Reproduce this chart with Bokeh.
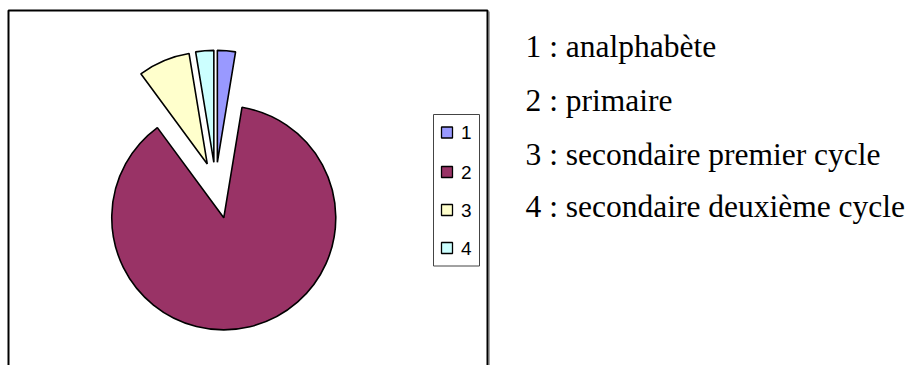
import math

from bokeh.core.properties import value
from bokeh.embed import file_html
from bokeh.models import ColumnDataSource, Range1d
from bokeh.plotting import figure
from bokeh.resources import INLINE

# Education level shares (percent of respondents)
categories = ["1", "2", "3", "4"]
shares = [2.6, 87.3, 7.5, 2.6]
colors = ["#9999FF", "#993366", "#FFFFCC", "#CCFFFF"]
descriptions = [
    "1 : analphabète",
    "2 : primaire",
    "3 : secondaire premier cycle",
    "4 : secondaire deuxième cycle",
]

W, H = 914, 365


def fy(y):
    """Convert a top-down pixel row to the upward data axis."""
    return H - y


p = figure(width=W, height=H, output_backend="svg", toolbar_location=None,
           x_range=Range1d(0, W), y_range=Range1d(0, H), min_border=0)
p.axis.visible = False
p.grid.visible = False
p.outline_line_color = None
p.background_fill_color = "white"

# chart frame (runs off the bottom edge)
p.quad(left=8, right=487, top=fy(10), bottom=-20, fill_color=None,
       line_color="black", line_width=2)
p.line(x=[488.5, 488.5], y=[fy(11), -20], line_color="#555555", line_width=1)

# pie: slices laid clockwise from 12 o'clock, each pulled out along its bisector
cx, cy, radius = 215.1, fy(183.3), 112
explode = [21.5, 35, 21.5, 21.5]
total = sum(shares)
xs, ys, starts, ends = [], [], [], []
theta = 0.0
for share, off in zip(shares, explode):
    span = share / total * 2 * math.pi
    t0, t1 = theta, theta + span
    mid = (t0 + t1) / 2
    xs.append(cx + off * math.sin(mid))
    ys.append(cy + off * math.cos(mid))
    starts.append(math.pi / 2 - t1)
    ends.append(math.pi / 2 - t0)
    theta = t1

pie = ColumnDataSource(dict(x=xs, y=ys, start=starts, end=ends, color=colors,
                            cat=categories))
p.wedge(x="x", y="y", radius=radius, start_angle="start", end_angle="end",
        fill_color="color", line_color="black", line_width=1.6, source=pie)

# legend box
p.quad(left=433, right=479, top=fy(114), bottom=fy(265.5), fill_color="white",
       line_color="#444444", line_width=1)
leg_y = [fy(132), fy(171.5), fy(209.5), fy(247.5)]
p.rect(x=[446.5] * 4, y=leg_y, width=11, height=11, fill_color=colors,
       line_color="black", line_width=1.3)
p.text(x=[460.5] * 4, y=leg_y, text=categories, text_font=value("Liberation Sans"),
       text_font_size="19px", text_baseline="middle", text_align="left",
       text_color="black")

# category descriptions
desc_y = [fy(46), fy(100), fy(154), fy(206)]
p.text(x=[525] * 4, y=desc_y, text=descriptions,
       text_font=value("Liberation Serif"), text_font_size="31.5px",
       text_baseline="middle", text_align="left", text_color="black")

open("out.html", "w").write(file_html(p, INLINE))
